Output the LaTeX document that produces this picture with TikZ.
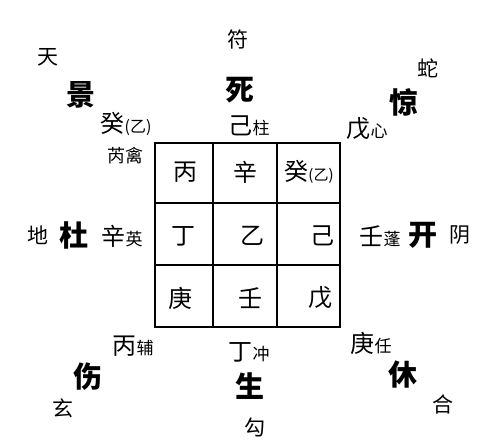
\documentclass[tikz,border=0pt]{standalone}
\usepackage{fontspec}
\setmainfont{Noto Sans CJK SC}
\usetikzlibrary{positioning}

\begin{document}
\begin{tikzpicture}[x=1pt, y=-1pt, inner sep=0pt]
        \tikzstyle{spirit} = [font=\fontsize{21}{23}\selectfont]
        \tikzstyle{door} = [font=\fontsize{29}{31}\selectfont\bfseries]
        \tikzstyle{stem} = [font=\fontsize{24}{26}\selectfont]
        \tikzstyle{cell} = [font=\fontsize{24}{26}\selectfont]
        \tikzstyle{grid} = [line width=1.6pt, black]
        \newcommand{\starname}[1]{{\fontsize{17}{19}\selectfont #1}}
        \newcommand{\yiname}{{\fontsize{16}{18}\selectfont (乙)}}
        \useasboundingbox (0,0) rectangle (490,446);
        % board
        \draw[grid] (155,143) rectangle (340,327);
        \draw[grid] (213,143) -- (213,327) (277,143) -- (277,327);
        \draw[grid] (155,203) -- (340,203) (155,265) -- (340,265);
        % cells
        \node[cell] (c11) at (185,172) {丙};
        \node[cell] (c12) at (245,172) {辛};
        \node[cell] (c13) at (309,172) {癸{\fontsize{15}{17}\selectfont (乙)}};
        \node[cell] (c21) at (183,236) {丁};
        \node[cell] (c22) at (252,236) {乙};
        \node[cell] (c23) at (322,236) {己};
        \node[cell] (c31) at (180,298) {庚};
        \node[cell] (c32) at (250,298) {壬};
        \node[cell] (c33) at (320,298) {戊};
        % palaces around the board
        \node[spirit] (tian) at (48,57) {天};
        \node[door] (jing) at (81,95) {景};
        \node[stem] (jingstem) at (126,124) {癸\yiname};
        \node[font=\fontsize{18}{20}\selectfont] (qin) at (125,156) {芮禽};
        \node[spirit] (fu) at (238,39) {符};
        \node[door] (si) at (240,90) {死};
        \node[stem] (sistem) at (249,126) {己\starname{柱}};
        \node[spirit] (she) at (428,68) {蛇};
        \node[door] (jing2) at (404,102) {惊};
        \node[stem] (jing2stem) at (367,129) {戊\starname{心}};
        \node[spirit] (di) at (38,235) {地};
        \node[door] (du) at (74,235) {杜};
        \node[stem] (dustem) at (122,236) {辛\starname{英}};
        \node[stem] (kaistem) at (380,236) {壬\starname{蓬}};
        \node[door] (kai) at (423,235) {开};
        \node[spirit] (yin) at (460,235) {阴};
        \node[stem] (shangstem) at (133,346) {丙\starname{辅}};
        \node[door] (shang) at (88,377) {伤};
        \node[spirit] (xuan) at (63,408) {玄};
        \node[stem] (shengstem) at (249,352) {丁\starname{冲}};
        \node[door] (sheng) at (250,386) {生};
        \node[spirit] (gou) at (255,427) {勾};
        \node[stem] (xiustem) at (371,343) {庚\starname{任}};
        \node[door] (xiu) at (403,375) {休};
        \node[spirit] (he) at (443,404) {合};
      \end{tikzpicture}
\end{document}
